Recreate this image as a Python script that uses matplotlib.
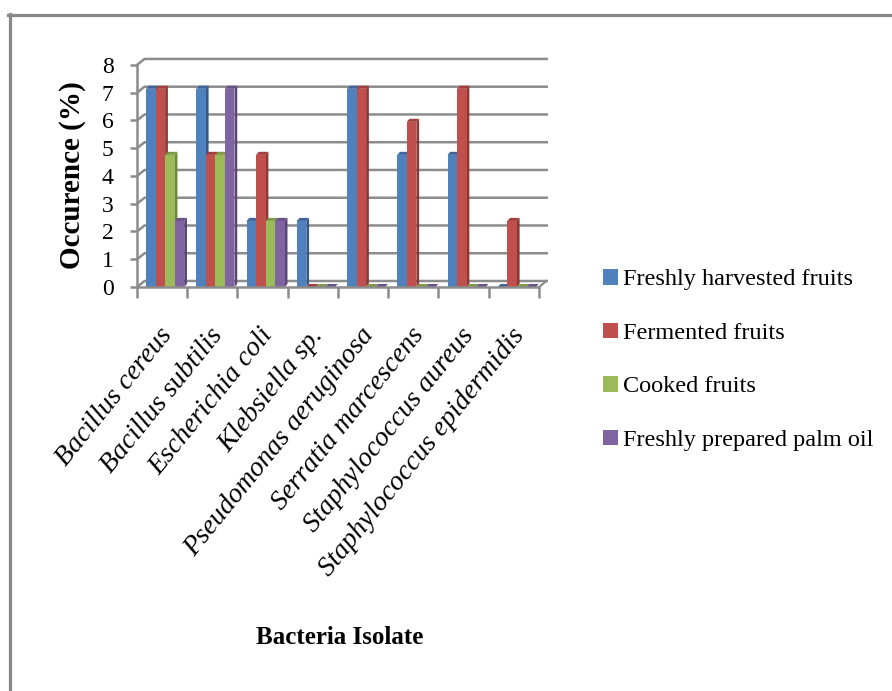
import matplotlib
matplotlib.use("Agg")
import matplotlib.pyplot as plt
from matplotlib.patches import Polygon, Patch
from matplotlib.lines import Line2D

# ---- data -------------------------------------------------------------
isolates = [
    "Bacillus cereus",
    "Bacillus subtilis",
    "Escherichia coli",
    "Klebsiella sp.",
    "Pseudomonas aeruginosa",
    "Serratia marcescens",
    "Staphylococcus aureus",
    "Staphylococcus epidermidis",
]
series_names = [
    "Freshly harvested fruits",
    "Fermented fruits",
    "Cooked fruits",
    "Freshly prepared palm oil",
]
freshly_harvested = [7.14, 7.14, 2.38, 2.38, 7.14, 4.76, 4.76, 0.0]
fermented = [7.14, 4.76, 4.76, 0.0, 7.14, 5.95, 7.14, 2.38]
cooked = [4.76, 4.76, 2.38, 0.0, 0.0, 0.0, 0.0, 0.0]
palm_oil = [2.38, 7.14, 2.38, 0.0, 0.0, 0.0, 0.0, 0.0]
y_ticks = [0, 1, 2, 3, 4, 5, 6, 7, 8]

series_values = [freshly_harvested, fermented, cooked, palm_oil]
front_colors = ["#4F81BD", "#C0504D", "#9BBB59", "#8064A2"]
side_colors = ["#36598A", "#8E3835", "#70893F", "#5B4677"]
top_colors = ["#3E6699", "#A23F3C", "#7E9A48", "#6A5189"]

GRID = "#8C8C8C"
serif = "Liberation Serif"

# ---- figure -----------------------------------------------------------
fig = plt.figure(figsize=(8.92, 6.91), dpi=100)
ax = fig.add_axes([137 / 892, 1 - 287 / 691, (548 - 137) / 892, (287 - 58) / 691])
n_cat = len(isolates)
ax.set_xlim(0, n_cat + 0.18)
ax.set_ylim(0, 8.25)

# back wall depth offsets (data units)
wall_dx, wall_dy = 0.15, 0.216
# bar depth offsets
bar_dx, bar_dy = 0.055, 0.11
bar_w = 0.19
bar_start = 0.18

# back-wall gridlines with the short perspective leg at the left
for v in y_ticks:
    ax.plot([0, wall_dx, n_cat + 0.18], [v, v + wall_dy, v + wall_dy],
            color=GRID, lw=1.8, zorder=1, clip_on=False, solid_capstyle="butt")

# floor edge on the right
ax.plot([n_cat, n_cat + wall_dx], [0, wall_dy], color=GRID, lw=1.5, zorder=1, clip_on=False)

# 3D-looking clustered columns
for i in range(n_cat):
    for j, vals in enumerate(series_values):
        h = vals[i]
        x0 = i + bar_start + j * bar_w
        x1 = x0 + bar_w
        z = 3 + i * 10 + j * 2
        side = Polygon([(x1, 0), (x1, h), (x1 + bar_dx, h + bar_dy), (x1 + bar_dx, bar_dy)],
                       closed=True, facecolor=side_colors[j], edgecolor="none",
                       zorder=z, clip_on=False)
        top = Polygon([(x0, h), (x1, h), (x1 + bar_dx, h + bar_dy), (x0 + bar_dx, h + bar_dy)],
                      closed=True, facecolor=top_colors[j], edgecolor="none",
                      zorder=z, clip_on=False)
        ax.add_patch(side)
        ax.add_patch(top)
        ax.bar(x0, h, width=bar_w, align="edge", color=front_colors[j],
               edgecolor="none", zorder=z + 1, clip_on=False)

# axes lines and ticks
for s in ["top", "right"]:
    ax.spines[s].set_visible(False)
ax.spines["left"].set_bounds(0, 8)
ax.spines["bottom"].set_bounds(0, n_cat)
for s in ["left", "bottom"]:
    ax.spines[s].set_color(GRID)
    ax.spines[s].set_linewidth(1.8)
    ax.spines[s].set_zorder(200)

ax.set_yticks(y_ticks)
ax.set_yticklabels([str(t) for t in y_ticks], fontfamily=serif, fontsize=17)
ax.tick_params(axis="y", direction="out", length=5, width=1.8, color=GRID, pad=12)
ax.set_xticks(range(n_cat + 1))
ax.set_xticklabels([])
ax.tick_params(axis="x", direction="out", length=8, width=1.8, color=GRID)

# category labels
for i, name in enumerate(isolates):
    ax.annotate(name, xy=(i + 0.5, 0), xycoords="data",
                xytext=(6, -44), textcoords="offset pixels",
                rotation=51, rotation_mode="anchor", ha="right", va="center",
                fontfamily=serif, fontstyle="italic", fontsize=20)

# axis titles
fig.text(72 / 892, 1 - 175 / 691, "Occurence (%)", rotation=90, ha="center", va="center",
         fontfamily=serif, fontweight="bold", fontsize=21)
fig.text(340 / 892, 1 - 638 / 691, "Bacteria Isolate", ha="center", va="center",
         fontfamily=serif, fontweight="bold", fontsize=18)

# legend
handles = [Patch(facecolor=c, edgecolor="none") for c in front_colors]
fig.legend(handles, series_names, loc="upper left",
           bbox_to_anchor=(603 / 892, 1 - 269 / 691), frameon=False,
           prop={"family": serif, "size": 17.5}, handlelength=0.62, handleheight=0.62,
           handletextpad=0.2, labelspacing=1.32, borderpad=0, borderaxespad=0)

# outer frame
fig.add_artist(Line2D([9.5 / 892, 9.5 / 892], [0, 1 - 14 / 691], color="#888888", lw=2.3,
                      transform=fig.transFigure))
fig.add_artist(Line2D([8 / 892, 1], [1 - 15 / 691, 1 - 15 / 691], color="#888888", lw=2.3,
                      transform=fig.transFigure))

fig.savefig("out.png", dpi=100)
